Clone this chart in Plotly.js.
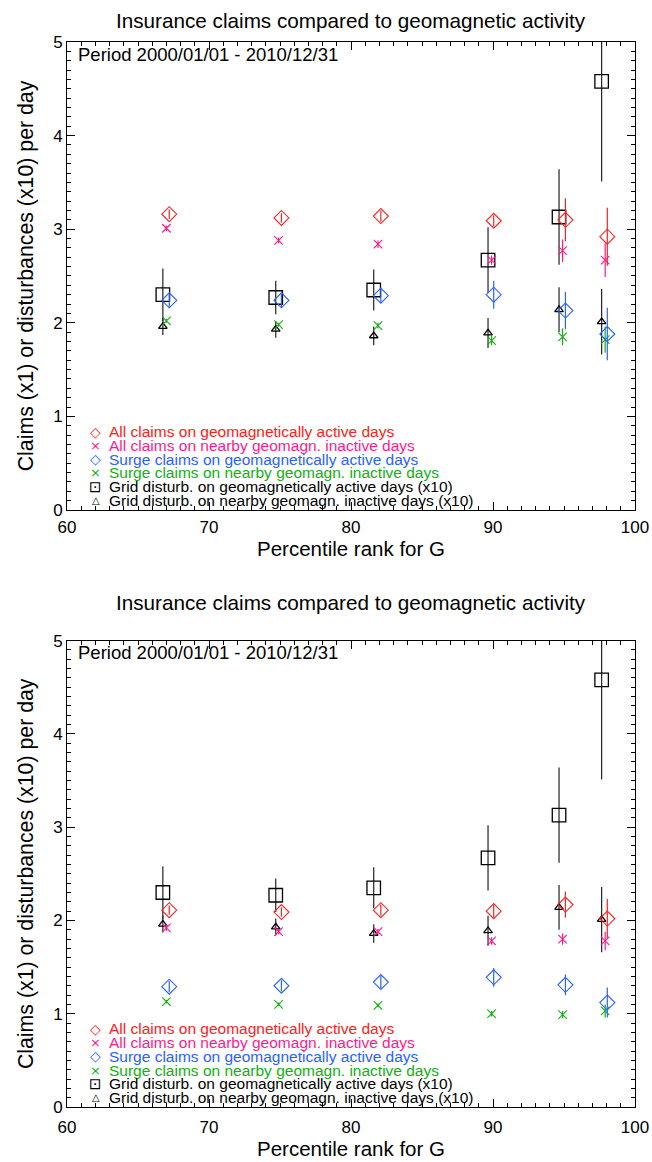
<!DOCTYPE html>
<html>
<head>
<meta charset="utf-8">
<script src="https://cdn.plot.ly/plotly-3.0.1.min.js"></script>
<style>html,body{margin:0;padding:0;background:#fff;}#chart{width:652px;height:1162px;}</style>
</head>
<body>
<div id="chart"></div>
<script>
// ---------- DATA ----------
const chartTitle = "Insurance claims compared to geomagnetic activity";
const periodText = "Period 2000/01/01 - 2010/12/31";
const xTitle = "Percentile rank for G";
const yTitle = "Claims (x1) or disturbances (x10) per day";

const seriesNames = [
  "All claims on geomagnetically active days",
  "All claims on nearby geomagn. inactive days",
  "Surge claims on geomagnetically active days",
  "Surge claims on nearby geomagn. inactive days",
  "Grid disturb. on geomagnetically active days (x10)",
  "Grid disturb. on nearby geomagn. inactive days (x10)"
];

// percentile rank positions (slightly offset per series, as plotted)
const activeX   = [67.2, 75.1, 82.1, 90.05, 95.1, 98.05];
const inactiveX = [67.0, 74.9, 81.9, 89.9, 94.9, 97.9];
const gridX     = [66.75, 74.7, 81.6, 89.65, 94.65, 97.65];

// top panel
const allActive1      = [3.16, 3.12, 3.14, 3.09, 3.10, 2.92];
const allActive1Err   = [0.05, 0.05, 0.06, 0.06, 0.23, 0.31];
const allInactive1    = [3.01, 2.88, 2.84, 2.67, 2.77, 2.67];
const allInactive1Err = [0.03, 0.03, 0.04, 0.05, 0.12, 0.18];
const surgeActive1    = [2.24, 2.24, 2.29, 2.30, 2.13, 1.88];
const surgeActive1Err = [0.08, 0.08, 0.08, 0.15, 0.20, 0.28];
const surgeInactive1    = [2.02, 1.98, 1.97, 1.81, 1.85, 1.82];
const surgeInactive1Err = [0.02, 0.02, 0.03, 0.05, 0.09, 0.14];

// bottom panel
const allActive2      = [2.11, 2.09, 2.11, 2.10, 2.17, 2.02];
const allActive2Err   = [0.05, 0.05, 0.06, 0.07, 0.14, 0.21];
const allInactive2    = [1.92, 1.88, 1.88, 1.78, 1.80, 1.78];
const allInactive2Err = [0.03, 0.03, 0.03, 0.04, 0.06, 0.10];
const surgeActive2    = [1.29, 1.30, 1.34, 1.39, 1.31, 1.12];
const surgeActive2Err = [0.06, 0.06, 0.07, 0.10, 0.11, 0.16];
const surgeInactive2    = [1.13, 1.10, 1.09, 1.00, 0.99, 1.03];
const surgeInactive2Err = [0.02, 0.02, 0.02, 0.03, 0.04, 0.07];

// grid disturbances (x10), same in both panels
const gridActive      = [2.30, 2.27, 2.35, 2.67, 3.13, 4.58];
const gridActiveErr   = [0.28, 0.18, 0.22, 0.35, 0.51, 1.07];
const gridInactive    = [1.96, 1.93, 1.86, 1.89, 2.14, 2.01];
const gridInactiveErr = [0.09, 0.09, 0.10, 0.16, 0.24, 0.35];

// ---------- STYLE ----------
const colors = ["#ff2020", "#ff1a8c", "#2a62ff", "#12b012", "#000000", "#000000"];
const symbols = ["diamond-open", "x-thin-open", "diamond-open", "x-thin-open", "square-open", "triangle-up-open"];
const sizes = [11.5, 8.5, 11.5, 8.5, 13.5, 7.5];
const legendGlyphs = ["\u25C7", "\u00D7", "\u25C7", "\u00D7", "\u22A1", "\u25B3"];
const legendGlyphSize = [14, 13, 14, 13, 15, 10];
const FONT = "Liberation Sans, Arial, Helvetica, sans-serif";

function mk(x, y, err, i, xa, ya) {
  return {
    type: "scatter", mode: "markers", x: x, y: y, name: seriesNames[i],
    xaxis: xa, yaxis: ya, showlegend: false, cliponaxis: true,
    marker: {symbol: symbols[i], size: sizes[i], color: colors[i],
             line: {color: colors[i], width: (i >= 4 ? 1.3 : 1.1)}},
    error_y: {type: "data", array: err, visible: true, width: 0,
              thickness: 1.2, color: (i >= 4 ? "#222222" : colors[i])}
  };
}

const panels = [
  {xa: "x", ya: "y", sets: [
    [activeX, allActive1, allActive1Err],
    [inactiveX, allInactive1, allInactive1Err],
    [activeX, surgeActive1, surgeActive1Err],
    [inactiveX, surgeInactive1, surgeInactive1Err],
    [gridX, gridActive, gridActiveErr],
    [gridX, gridInactive, gridInactiveErr]]},
  {xa: "x2", ya: "y2", sets: [
    [activeX, allActive2, allActive2Err],
    [inactiveX, allInactive2, allInactive2Err],
    [activeX, surgeActive2, surgeActive2Err],
    [inactiveX, surgeInactive2, surgeInactive2Err],
    [gridX, gridActive, gridActiveErr],
    [gridX, gridInactive, gridInactiveErr]]}
];

const data = [];
panels.forEach(p => {
  // draw grid first, then claims on top
  [4, 5, 3, 2, 1, 0].forEach(i => {
    const s = p.sets[i];
    data.push(mk(s[0], s[1], s[2], i, p.xa, p.ya));
  });
});

// ---------- LAYOUT ----------
function xAxis(anchor, labelGap, titleGap) {
  return {
    anchor: anchor, range: [60, 100], tickvals: [60, 70, 80, 90, 100],
    ticks: "inside", ticklen: 8, tickwidth: 1, tickcolor: "#000",
    showline: true, linecolor: "#000", linewidth: 1, mirror: "allticks",
    showgrid: false, zeroline: false, ticklabelstandoff: labelGap,
    tickfont: {family: FONT, size: 17, color: "#000"},
    minor: {dtick: 1, ticks: "inside", ticklen: 4, tickcolor: "#000", tickwidth: 1, showgrid: false},
    title: {text: xTitle, font: {family: FONT, size: 20.5, color: "#000"}, standoff: titleGap}
  };
}
function yAxis(domain, anchor) {
  return {
    anchor: anchor, domain: domain, range: [0, 5], tickvals: [0, 1, 2, 3, 4, 5],
    ticks: "inside", ticklen: 8, tickwidth: 1, tickcolor: "#000",
    showline: true, linecolor: "#000", linewidth: 1, mirror: "allticks",
    showgrid: false, zeroline: false,
    tickfont: {family: FONT, size: 17, color: "#000"},
    minor: {dtick: 0.1, ticks: "inside", ticklen: 4, tickcolor: "#000", tickwidth: 1, showgrid: false},
    title: {text: yTitle, font: {family: FONT, size: 21.3, color: "#000"}, standoff: 13}
  };
}

const annotations = [];
function panelAnnots(xr, yr, titleY) {
  annotations.push({xref: xr + " domain", yref: yr + " domain", x: 0.5, y: titleY,
    xanchor: "center", yanchor: "middle", showarrow: false,
    text: chartTitle, font: {family: FONT, size: 20.7, color: "#000"}});
  annotations.push({xref: xr + " domain", yref: yr + " domain", x: 0.016, y: 0.974,
    xanchor: "left", yanchor: "middle", showarrow: false,
    text: periodText, font: {family: FONT, size: 18.5, color: "#000"}});
  // legend (text + symbol glyphs)
  const rowTop = 0.1675, rowStep = 0.0294;
  seriesNames.forEach((n, i) => {
    const yy = rowTop - i * rowStep;
    annotations.push({xref: xr + " domain", yref: yr + " domain", x: 0.0505, y: yy,
      xanchor: "center", yanchor: "middle", showarrow: false, borderpad: 0,
      text: legendGlyphs[i], font: {family: "DejaVu Sans", size: legendGlyphSize[i], color: colors[i]}});
    annotations.push({xref: xr + " domain", yref: yr + " domain", x: 0.0725, y: yy,
      xanchor: "left", yanchor: "middle", showarrow: false, borderpad: 0,
      text: n, font: {family: FONT, size: 15.5, color: colors[i]}});
  });
}
panelAnnots("x", "y", 1.047);
panelAnnots("x2", "y2", 1.081);

const layout = {
  width: 652, height: 1162,
  margin: {l: 67, r: 17, t: 42, b: 55},
  paper_bgcolor: "#fff", plot_bgcolor: "#fff",
  showlegend: false,
  xaxis: xAxis("y", 2, 3),
  yaxis: yAxis([0.5606, 1], "x"),
  xaxis2: xAxis("y2", 5, 5),
  yaxis2: yAxis([0, 0.4379], "x2"),
  annotations: annotations,
  font: {family: FONT, color: "#000"}
};

Plotly.newPlot("chart", data, layout, {displayModeBar: false, staticPlot: true});
</script>
</body>
</html>
